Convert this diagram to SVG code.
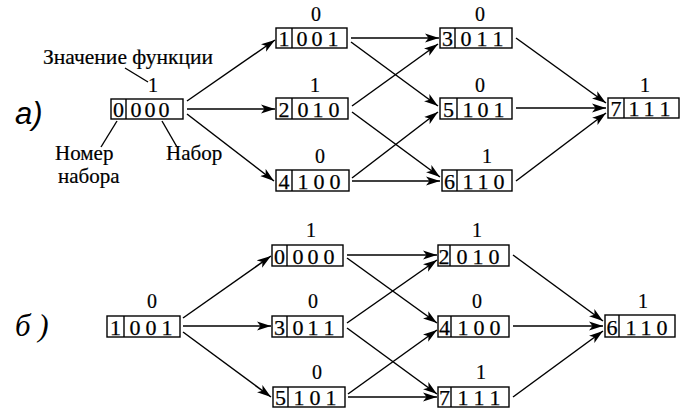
<svg xmlns="http://www.w3.org/2000/svg" width="685" height="409" viewBox="0 0 685 409">
<style>
.box{fill:#fff;stroke:#000;stroke-width:1.4}
.div{stroke:#000;stroke-width:1.4}
.d{font-family:"Liberation Serif",serif;font-size:22px;text-anchor:middle;fill:#000;stroke:#000;stroke-width:0.25}
.v{font-family:"Liberation Serif",serif;font-size:20px;text-anchor:middle;fill:#000;stroke:#000;stroke-width:0.2}
.lbl{font-family:"Liberation Serif",serif;font-size:21px;fill:#000;stroke:#000;stroke-width:0.2}
.cap{font-style:italic;font-size:31px;fill:#000}
.c line{stroke:#000;stroke-width:1.5;marker-end:url(#ah)}
.ld{stroke:#000;stroke-width:1.4}
</style>
<defs>
<marker id="ah" markerUnits="userSpaceOnUse" markerWidth="15" markerHeight="10" refX="14" refY="5" orient="auto">
<path d="M0,0.5 L14,5 L0,9.5 L3.5,5 z" fill="#000"/>
</marker>
</defs>
<rect width="685" height="409" fill="#fff"/>

<text class="cap" x="15" y="124" font-family="Liberation Sans, sans-serif">a)</text>
<text class="cap" x="15" y="336" font-family="Liberation Serif, serif">б )</text>

<g id="annotations">
<text class="lbl" x="43" y="64" textLength="170" lengthAdjust="spacingAndGlyphs">Значение функции</text>
<line class="ld" x1="125" y1="68" x2="148" y2="82"/>
<line class="ld" x1="117" y1="121" x2="101" y2="147"/>
<line class="ld" x1="162" y1="121" x2="177" y2="147"/>
<text class="lbl" x="55" y="160">Номер</text>
<text class="lbl" x="58" y="183">набора</text>
<text class="lbl" x="166" y="160">Набор</text>
</g>

<g class="c" id="connectors">
<line x1="187" y1="101" x2="275" y2="40"/>
<line x1="187" y1="109" x2="275" y2="109"/>
<line x1="187" y1="114" x2="274" y2="181"/>
<line x1="351" y1="38" x2="439" y2="38"/>
<line x1="351" y1="42" x2="438" y2="106"/>
<line x1="352" y1="106" x2="438" y2="44"/>
<line x1="352" y1="112" x2="440" y2="177"/>
<line x1="352" y1="178" x2="438" y2="112"/>
<line x1="352" y1="181" x2="440" y2="181"/>
<line x1="516" y1="38" x2="606" y2="103"/>
<line x1="516" y1="108" x2="606" y2="108"/>
<line x1="516" y1="181" x2="606" y2="113"/>

<line x1="183" y1="318" x2="271" y2="256"/>
<line x1="183" y1="326" x2="271" y2="326"/>
<line x1="183" y1="332" x2="271" y2="397"/>
<line x1="347" y1="255" x2="437" y2="255"/>
<line x1="347" y1="258" x2="437" y2="323"/>
<line x1="347" y1="323" x2="437" y2="260"/>
<line x1="347" y1="328" x2="437" y2="394"/>
<line x1="348" y1="394" x2="437" y2="330"/>
<line x1="348" y1="397" x2="437" y2="397"/>
<line x1="513" y1="255" x2="603" y2="321"/>
<line x1="513" y1="326" x2="603" y2="326"/>
<line x1="513" y1="397" x2="603" y2="331"/>
</g>

<!-- part a -->
<g id="a0"><rect class="box" x="111" y="99" width="72" height="20"/><line class="div" x1="126" y1="99" x2="126" y2="119"/>
<text class="d" x="118.5" y="117">0</text><text class="d" x="136" y="117">0</text><text class="d" x="150" y="117">0</text><text class="d" x="164" y="117">0</text>
<text class="v" x="153" y="92">1</text></g>

<g id="a1"><rect class="box" x="276" y="28" width="71" height="20"/><line class="div" x1="292" y1="28" x2="292" y2="48"/>
<text class="d" x="284" y="46">1</text><text class="d" x="302" y="46">0</text><text class="d" x="317" y="46">0</text><text class="d" x="333" y="46">1</text>
<text class="v" x="316" y="21">0</text></g>

<g id="a2"><rect class="box" x="276" y="98" width="72" height="21"/><line class="div" x1="292" y1="98" x2="292" y2="119"/>
<text class="d" x="284" y="117">2</text><text class="d" x="303" y="117">0</text><text class="d" x="318" y="117">1</text><text class="d" x="334" y="117">0</text>
<text class="v" x="315" y="92">1</text></g>

<g id="a4"><rect class="box" x="276" y="170" width="73" height="21"/><line class="div" x1="292" y1="170" x2="292" y2="191"/>
<text class="d" x="284" y="189">4</text><text class="d" x="303" y="189">1</text><text class="d" x="319" y="189">0</text><text class="d" x="335" y="189">0</text>
<text class="v" x="320" y="163">0</text></g>

<g id="a3"><rect class="box" x="440" y="28" width="72" height="20"/><line class="div" x1="455" y1="28" x2="455" y2="48"/>
<text class="d" x="447.5" y="46">3</text><text class="d" x="466" y="46">0</text><text class="d" x="482" y="46">1</text><text class="d" x="498" y="46">1</text>
<text class="v" x="480" y="21">0</text></g>

<g id="a5"><rect class="box" x="440" y="98" width="72" height="21"/><line class="div" x1="457" y1="98" x2="457" y2="119"/>
<text class="d" x="448.5" y="117">5</text><text class="d" x="468" y="117">1</text><text class="d" x="483" y="117">0</text><text class="d" x="499" y="117">1</text>
<text class="v" x="480" y="92">0</text></g>

<g id="a6"><rect class="box" x="442" y="170" width="70" height="21"/><line class="div" x1="457" y1="170" x2="457" y2="191"/>
<text class="d" x="449.5" y="189">6</text><text class="d" x="468" y="189">1</text><text class="d" x="483" y="189">1</text><text class="d" x="499" y="189">0</text>
<text class="v" x="487" y="163">1</text></g>

<g id="a7"><rect class="box" x="608" y="98" width="71" height="20"/><line class="div" x1="624" y1="98" x2="624" y2="118"/>
<text class="d" x="616" y="116">7</text><text class="d" x="634" y="116">1</text><text class="d" x="649" y="116">1</text><text class="d" x="665" y="116">1</text>
<text class="v" x="645" y="92">1</text></g>

<!-- part b -->
<g id="b1"><rect class="box" x="107" y="316" width="73" height="21"/><line class="div" x1="124" y1="316" x2="124" y2="337"/>
<text class="d" x="115.5" y="335">1</text><text class="d" x="135" y="335">0</text><text class="d" x="151" y="335">0</text><text class="d" x="167" y="335">1</text>
<text class="v" x="152" y="308">0</text></g>

<g id="b0"><rect class="box" x="272" y="245" width="71" height="21"/><line class="div" x1="287" y1="245" x2="287" y2="266"/>
<text class="d" x="279.5" y="264">0</text><text class="d" x="298" y="264">0</text><text class="d" x="313" y="264">0</text><text class="d" x="329" y="264">0</text>
<text class="v" x="311" y="237">1</text></g>

<g id="b3"><rect class="box" x="272" y="316" width="71" height="21"/><line class="div" x1="287" y1="316" x2="287" y2="337"/>
<text class="d" x="279.5" y="335">3</text><text class="d" x="298" y="335">0</text><text class="d" x="313" y="335">1</text><text class="d" x="329" y="335">1</text>
<text class="v" x="313" y="308">0</text></g>

<g id="b5"><rect class="box" x="273" y="387" width="72" height="20"/><line class="div" x1="288" y1="387" x2="288" y2="407"/>
<text class="d" x="280.5" y="405">5</text><text class="d" x="299" y="405">1</text><text class="d" x="315" y="405">0</text><text class="d" x="331" y="405">1</text>
<text class="v" x="317" y="379">0</text></g>

<g id="b2"><rect class="box" x="438" y="245" width="71" height="21"/><line class="div" x1="450" y1="245" x2="450" y2="266"/>
<text class="d" x="444" y="264">2</text><text class="d" x="462" y="264">0</text><text class="d" x="478" y="264">1</text><text class="d" x="494" y="264">0</text>
<text class="v" x="477" y="237">1</text></g>

<g id="b4"><rect class="box" x="438" y="316" width="71" height="21"/><line class="div" x1="451" y1="316" x2="451" y2="337"/>
<text class="d" x="444.5" y="335">4</text><text class="d" x="463" y="335">1</text><text class="d" x="479" y="335">0</text><text class="d" x="495" y="335">0</text>
<text class="v" x="477" y="308">0</text></g>

<g id="b7"><rect class="box" x="438" y="387" width="71" height="20"/><line class="div" x1="451" y1="387" x2="451" y2="407"/>
<text class="d" x="444.5" y="405">7</text><text class="d" x="463" y="405">1</text><text class="d" x="479" y="405">1</text><text class="d" x="495" y="405">1</text>
<text class="v" x="481" y="379">1</text></g>

<g id="b6"><rect class="box" x="605" y="315" width="70" height="22"/><line class="div" x1="619" y1="315" x2="619" y2="337"/>
<text class="d" x="612" y="335">6</text><text class="d" x="631" y="335">1</text><text class="d" x="646" y="335">1</text><text class="d" x="662" y="335">0</text>
<text class="v" x="643" y="308">1</text></g>
</svg>
